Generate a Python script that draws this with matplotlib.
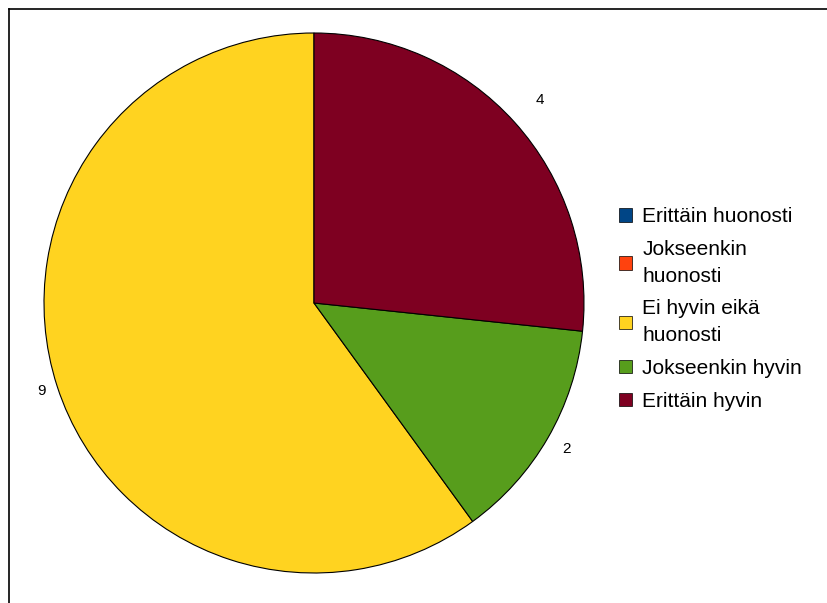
import matplotlib
matplotlib.use("Agg")
import matplotlib.pyplot as plt
from matplotlib.lines import Line2D

plt.rcParams['font.family'] = ['Liberation Sans', 'DejaVu Sans']

# vastaukset
kategoriat = ['Erittäin huonosti', 'Jokseenkin\nhuonosti', 'Ei hyvin eikä\nhuonosti',
              'Jokseenkin hyvin', 'Erittäin hyvin']
arvot = [0, 0, 9, 2, 4]
varit = ['#004586', '#ff420e', '#ffd320', '#579d1c', '#7e0021']
etaisyys = [1.1, 1.1, 1.06, 1.08, 1.125]  # nimien etaisyys keskelta

fig = plt.figure(figsize=(8.27, 6.03), dpi=100)
fig.patch.set_facecolor('white')

# kehys vasemmalla ja ylhaalla
fig.add_artist(Line2D([9/827, 9/827], [0, 1 - 9/603], color='black', lw=1.2))
fig.add_artist(Line2D([9/827, 1], [1 - 9/603, 1 - 9/603], color='black', lw=1.2))

ax = fig.add_axes([44/827, 30/603, 540/827, 540/603])
nimet = [str(a) if a > 0 else '' for a in arvot]
wedges, texts = ax.pie(arvot, labels=nimet, colors=varit, startangle=90,
                       labeldistance=1.1,
                       wedgeprops=dict(edgecolor='black', linewidth=0.8),
                       textprops=dict(fontsize=11))
for t, d in zip(texts, etaisyys):
    x, y = t.get_position()
    t.set_position((x * d / 1.1, y * d / 1.1))
    t.set_ha('center')
    t.set_va('center')
ax.set_xlim(-1, 1)
ax.set_ylim(-1, 1)
ax.set_aspect('equal')
ax.axis('off')

leg = fig.legend(wedges, kategoriat, loc='center left',
                 bbox_to_anchor=(604/827, 1 - 309/603), frameon=False,
                 prop={'size': 15}, handlelength=0.63, handleheight=0.63,
                 handletextpad=0.5, labelspacing=0.67, borderpad=0.2)
for txt in leg.get_texts():
    txt.set_linespacing(1.5)
for h in leg.legend_handles:
    h.set_linewidth(0.5)

fig.savefig('out.png', dpi=100)
